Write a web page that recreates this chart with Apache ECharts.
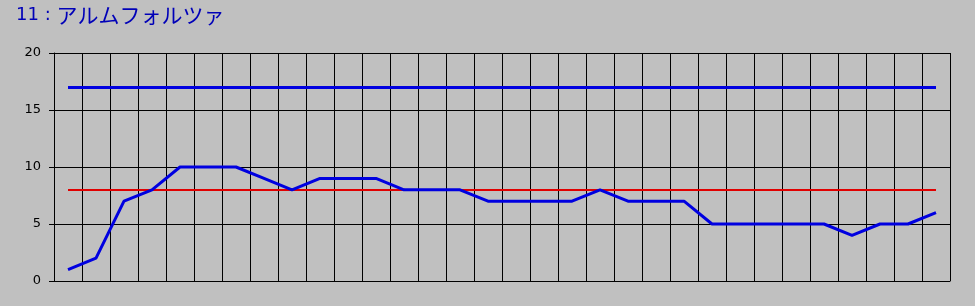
<!DOCTYPE html>
<html><head><meta charset="utf-8">
<script src="https://cdn.jsdelivr.net/npm/echarts@6/dist/echarts.min.js"></script>
<style>html,body{margin:0;padding:0;background:#c0c0c0;}#c{width:975px;height:306px;}</style>
</head><body><div id="c"></div>
<script>
const titleNumber = '11 : ';
const titleName = 'アルムフォルツァ';
const categories = ['1','2','3','4','5','6','7','8','9','10','11','12','13','14','15','16','17','18','19','20','21','22','23','24','25','26','27','28','29','30','31','32'];
const values = [1,2,7,8,10,10,10,9,8,9,9,9,8,8,8,7,7,7,7,8,7,7,7,5,5,5,5,5,4,5,5,6];
const upperLine = 17;
const referenceLine = 8;
const yTicks = [0,5,10,15,20];

const chart = echarts.init(document.getElementById('c'), null, {renderer:'canvas'});
chart.setOption({
  backgroundColor:'#c0c0c0',
  animation:false,
  title:{text:'{a|'+titleNumber+'}{b|'+titleName+'}',left:11,top:0,
    textStyle:{color:'#0000b8',fontWeight:'normal',
      rich:{
        a:{fontFamily:'DejaVu Sans',fontSize:18,color:'#0000b8'},
        b:{fontFamily:'Noto Sans CJK JP',fontSize:21,color:'#0000b8'}
      }}},
  grid:{left:54,right:25,top:53,bottom:25,containLabel:false},
  xAxis:{type:'category',data:categories,boundaryGap:true,
    axisLine:{show:true,lineStyle:{color:'#000',width:1}},
    axisTick:{show:false},axisLabel:{show:false},
    splitLine:{show:true,lineStyle:{color:'#000',width:1}}},
  yAxis:{type:'value',min:yTicks[0],max:yTicks[yTicks.length-1],interval:5,
    axisLine:{show:true,lineStyle:{color:'#000',width:1}},
    axisTick:{show:true,length:5,lineStyle:{color:'#000'}},
    axisLabel:{color:'#000',fontSize:13,fontFamily:'DejaVu Sans',margin:13},
    splitLine:{show:true,lineStyle:{color:'#000',width:1}}},
  series:[
    {type:'line',data:values,symbol:'none',lineStyle:{color:'#0000e0',width:3},z:5,
     markLine:{silent:true,symbol:'none',label:{show:false},
       data:[
        [{coord:[categories[0],upperLine],lineStyle:{color:'#0000e0',width:3,type:'solid'}},{coord:[categories[categories.length-1],upperLine]}],
        [{coord:[categories[0],referenceLine],lineStyle:{color:'#e00000',width:2,type:'solid'}},{coord:[categories[categories.length-1],referenceLine]}]
       ]}}
  ]
});
</script></body></html>
